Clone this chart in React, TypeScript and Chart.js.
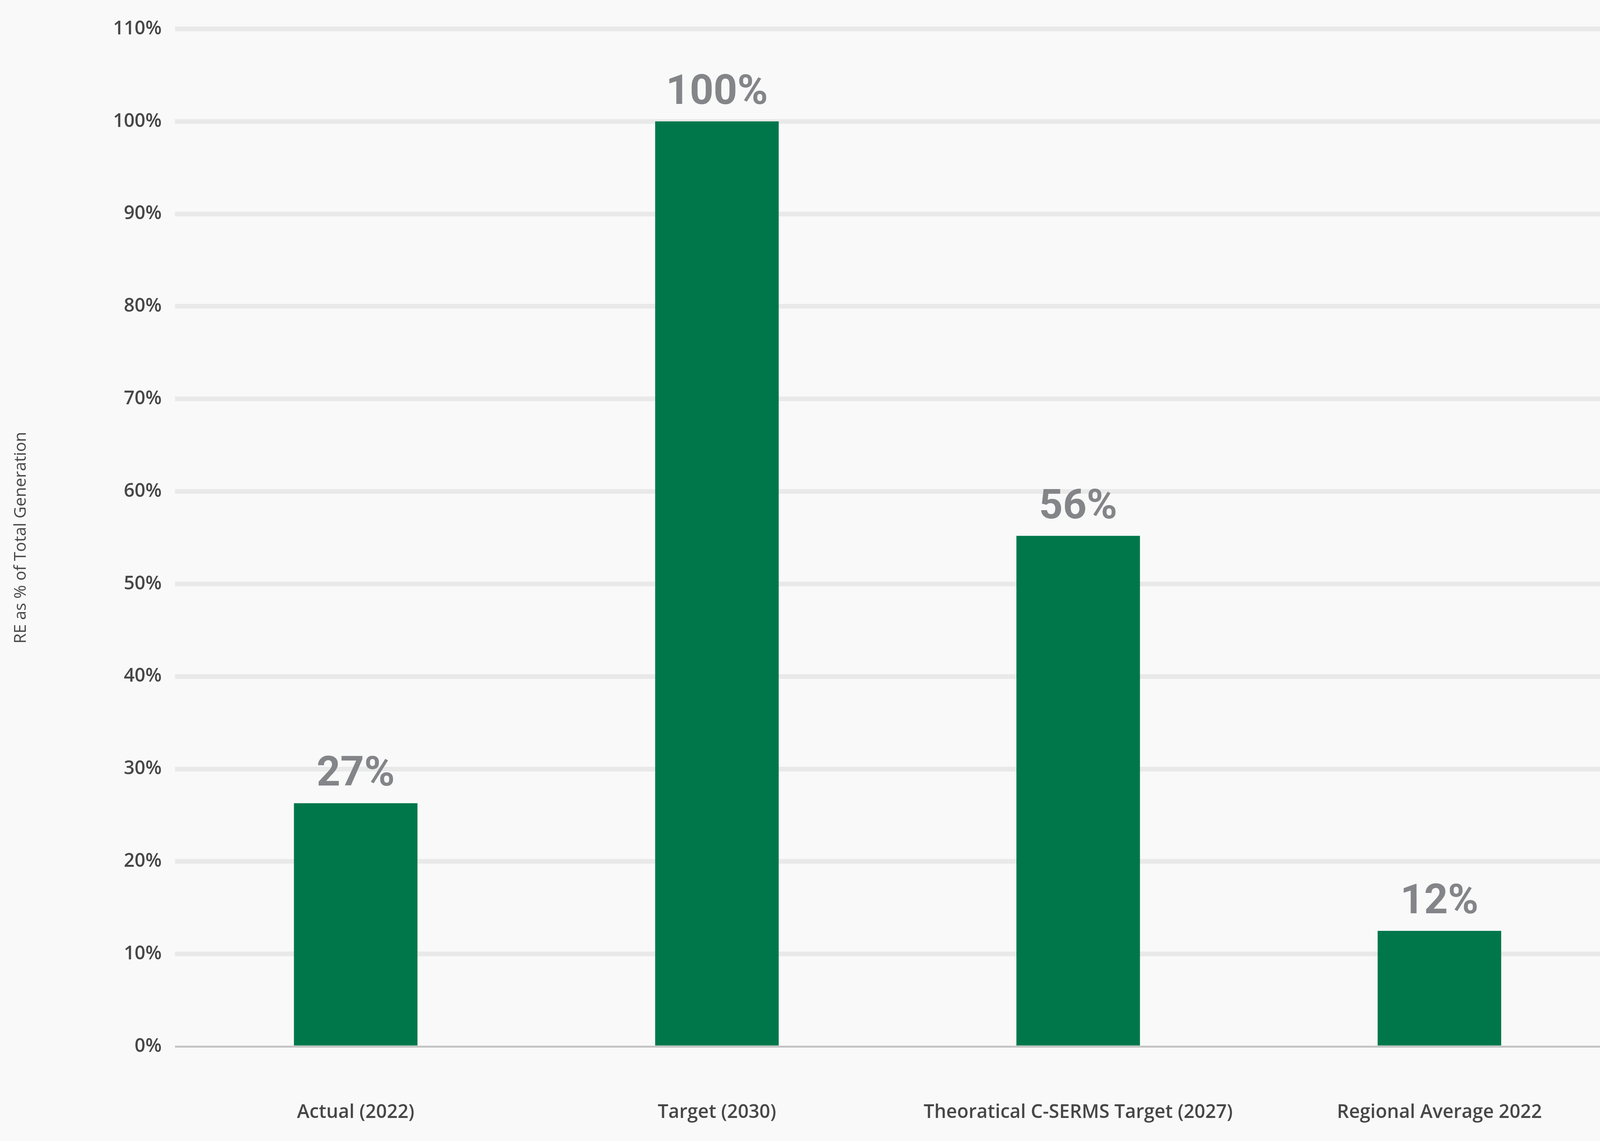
import React, { useEffect, useRef } from 'react';
import { Chart, registerables } from 'chart.js';

Chart.register(...registerables);

const categories = [
  'Actual (2022)',
  'Target (2030)',
  'Theoratical C-SERMS Target (2027)',
  'Regional Average 2022',
];
const shareValues = [26.3, 100, 55.2, 12.5];
const valueLabels = ['27%', '100%', '56%', '12%'];
const yMin = 0;
const yMax = 110;
const yStep = 10;
const yAxisTitle = 'RE as % of Total Generation';

const BG = '#f9f9f9';
const TEXT = '#474747';

// reference design size
const REF_W = 6790;
const REF_H = 2921;

export default function App() {
  const canvasRef = useRef<HTMLCanvasElement | null>(null);
  const holderRef = useRef<HTMLDivElement | null>(null);

  useEffect(() => {
    const canvas = canvasRef.current;
    const holder = holderRef.current;
    if (!canvas || !holder) return;
    const W = window.innerWidth;
    const H = window.innerHeight;
    const sx = W / REF_W;
    const sy = H / REF_H;
    const s = Math.min(sx, sy);
    holder.style.width = `${6875 * sx}px`;
    holder.style.height = `${H}px`;

    const bgPlugin = {
      id: 'bgFill',
      beforeDraw(chart: any) {
        const { ctx, width, height } = chart;
        ctx.save();
        ctx.fillStyle = BG;
        ctx.fillRect(0, 0, width, height);
        ctx.restore();
      },
    };

    const valueLabelPlugin = {
      id: 'valueLabels',
      afterDatasetsDraw(chart: any) {
        const { ctx } = chart;
        const meta = chart.getDatasetMeta(0);
        ctx.save();
        ctx.font = `700 ${176 * s}px Roboto, "DejaVu Sans", sans-serif`;
        ctx.fillStyle = '#848589';
        ctx.textAlign = 'center';
        ctx.textBaseline = 'alphabetic';
        meta.data.forEach((bar: any, i: number) => {
          ctx.fillText(valueLabels[i], bar.x, bar.y - 45 * sy);
        });
        ctx.restore();
      },
    };

    const chart = new Chart(canvas, {
      type: 'bar',
      data: {
        labels: categories,
        datasets: [
          {
            data: shareValues,
            backgroundColor: '#00774b',
            borderWidth: 0,
            barPercentage: 0.342,
            categoryPercentage: 1,
          },
        ],
      },
      options: {
        animation: false,
        responsive: true,
        maintainAspectRatio: false,
        layout: { padding: { top: 74 * sy, left: 0, right: 0, bottom: 0 } },
        plugins: {
          legend: { display: false },
          tooltip: { enabled: false },
        },
        scales: {
          x: {
            grid: { display: false, drawTicks: false },
            border: { display: false },
            ticks: {
              color: TEXT,
              font: { family: '"Open Sans"', size: 80 * s, weight: '600' },
              padding: 140 * sy,
              maxRotation: 0,
              autoSkip: false,
            },
            afterFit: (sc: any) => {
              sc.height = 242 * sy;
            },
          },
          y: {
            min: yMin,
            max: yMax,
            border: { display: false },
            grid: {
              drawTicks: false,
              color: (c: any) => (c.tick && c.tick.value === 0 ? '#c4c4c4' : '#e9e9e9'),
              lineWidth: (c: any) => (c.tick && c.tick.value === 0 ? 5 * sy : 12 * sy),
            },
            ticks: {
              stepSize: yStep,
              color: TEXT,
              font: { family: '"Open Sans"', size: 80 * s, weight: '600' },
              padding: 57 * sx,
              callback: (v: any) => `${v}%`,
            },
            title: {
              display: true,
              text: yAxisTitle,
              color: TEXT,
              font: { family: '"Open Sans"', size: 70 * s, weight: '400' },
              padding: { top: 90 * sx - 42 * s, bottom: 0 },
            },
            afterFit: (sc: any) => {
              sc.width = 743 * sx;
            },
          },
        },
      },
      plugins: [bgPlugin, valueLabelPlugin],
    });
    return () => chart.destroy();
  }, []);

  return (
    <div
      style={{
        position: 'fixed',
        left: 0,
        top: 0,
        width: '100vw',
        height: '100vh',
        overflow: 'hidden',
        background: BG,
      }}
    >
      <div ref={holderRef} style={{ position: 'relative', width: '100vw', height: '100vh' }}>
        <canvas ref={canvasRef} />
      </div>
    </div>
  );
}
